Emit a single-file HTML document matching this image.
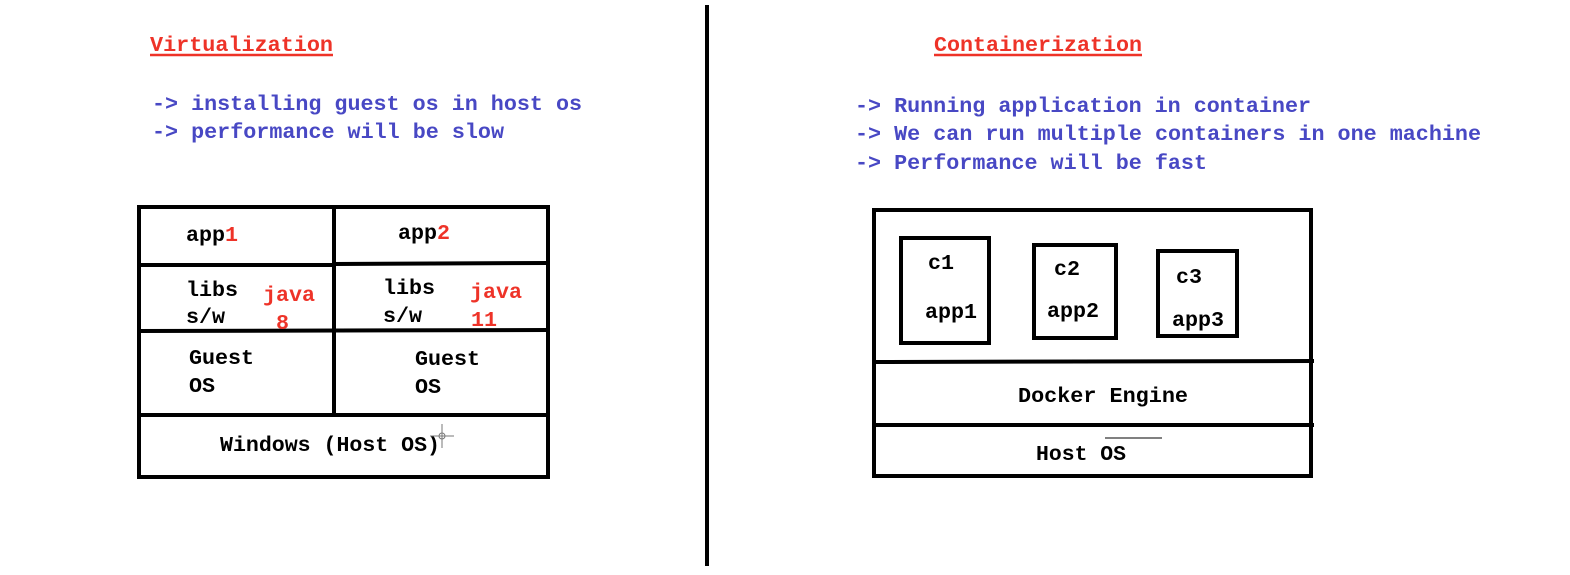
<!DOCTYPE html>
<html><head><meta charset="utf-8"><style>
html,body{margin:0;padding:0;background:#fff;}
svg{display:block}
text{font-family:"Liberation Mono",monospace;font-weight:bold;font-size:21.7px;}
.b{fill:#4848c4}.r{fill:#ee3328}.k{fill:#000}
</style></head><body>
<svg width="1570" height="575" viewBox="0 0 1570 575" xmlns="http://www.w3.org/2000/svg">
<rect width="1570" height="575" fill="#fff"/>
<line x1="707" y1="5" x2="707" y2="566" stroke="#000" stroke-width="4"/>
<!-- left -->
<text x="150" y="51" class="r" textLength="183" lengthAdjust="spacingAndGlyphs">Virtualization</text>
<line x1="150" y1="55" x2="333" y2="55" stroke="#ee3328" stroke-width="2.5"/>
<text x="152" y="110" class="b" textLength="430" lengthAdjust="spacingAndGlyphs">-&gt; installing guest os in host os</text>
<text x="152" y="138" class="b" textLength="352" lengthAdjust="spacingAndGlyphs">-&gt; performance will be slow</text>
<g stroke="#000" stroke-width="4" fill="none">
<rect x="139" y="207" width="409" height="270"/>
<line x1="334" y1="207" x2="334" y2="415"/>
<line x1="139" y1="265" x2="334" y2="265"/>
<line x1="334" y1="264" x2="548" y2="263"/>
<line x1="139" y1="331" x2="548" y2="330"/>
<line x1="139" y1="415" x2="548" y2="415"/>
</g>
<text x="186" y="241" class="k">app<tspan class="r">1</tspan></text>
<text x="398" y="239" class="k">app<tspan class="r">2</tspan></text>
<text x="186" y="296" class="k">libs</text>
<text x="186" y="323" class="k">s/w</text>
<text x="263" y="301" class="r">java</text>
<text x="276" y="329" class="r">8</text>
<text x="383" y="294" class="k">libs</text>
<text x="383" y="322" class="k">s/w</text>
<text x="470" y="298" class="r">java</text>
<text x="471" y="326" class="r">11</text>
<text x="189" y="364" class="k">Guest</text>
<text x="189" y="392" class="k">OS</text>
<text x="415" y="365" class="k">Guest</text>
<text x="415" y="393" class="k">OS</text>
<text x="220" y="451" class="k" textLength="220" lengthAdjust="spacingAndGlyphs">Windows (Host OS)</text>
<g stroke="#777" stroke-width="1" fill="none"><circle cx="442" cy="436" r="3"/><line x1="442" y1="424" x2="442" y2="448"/><line x1="430" y1="436" x2="454" y2="436"/></g>
<!-- right -->
<text x="934" y="51" class="r" textLength="208" lengthAdjust="spacingAndGlyphs">Containerization</text>
<line x1="934" y1="55" x2="1142" y2="55" stroke="#ee3328" stroke-width="2.5"/>
<text x="855" y="112" class="b" textLength="456" lengthAdjust="spacingAndGlyphs">-&gt; Running application in container</text>
<text x="855" y="140" class="b" textLength="626" lengthAdjust="spacingAndGlyphs">-&gt; We can run multiple containers in one machine</text>
<text x="855" y="169" class="b" textLength="352" lengthAdjust="spacingAndGlyphs">-&gt; Performance will be fast</text>
<g stroke="#000" stroke-width="4" fill="none">
<rect x="874" y="210" width="437" height="266"/>
<line x1="874" y1="362" x2="1314" y2="361"/>
<line x1="872" y1="425" x2="1314" y2="425"/>
<rect x="901" y="238" width="88" height="105"/>
<rect x="1034" y="245" width="82" height="93"/>
<rect x="1158" y="251" width="79" height="85"/>
</g>
<text x="928" y="269" class="k">c1</text>
<text x="925" y="318" class="k">app1</text>
<text x="1054" y="275" class="k">c2</text>
<text x="1047" y="317" class="k">app2</text>
<text x="1176" y="283" class="k">c3</text>
<text x="1172" y="326" class="k">app3</text>
<text x="1018" y="402" class="k" textLength="170" lengthAdjust="spacingAndGlyphs">Docker Engine</text>
<text x="1036" y="460" class="k" textLength="90" lengthAdjust="spacingAndGlyphs">Host OS</text>
<line x1="1105" y1="438" x2="1162" y2="438" stroke="#000" stroke-width="1"/>
</svg>
</body></html>
